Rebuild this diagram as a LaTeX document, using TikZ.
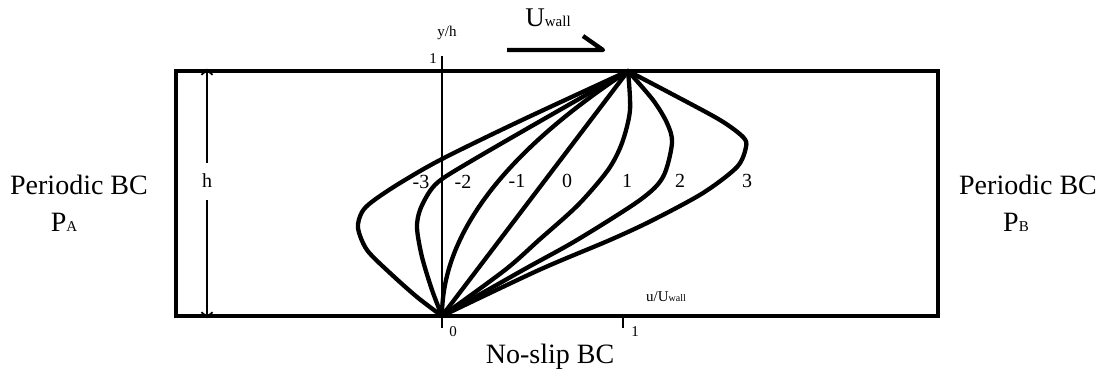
\documentclass[tikz,border=0pt]{standalone}
\usepackage{fontspec}
\setmainfont{Liberation Serif}
\usetikzlibrary{arrows.meta}
\begin{document}
\begin{tikzpicture}[x=1pt,y=-1pt,
  curve/.style={line width=4.3pt, line join=round, line cap=round},
  lab/.style={font=\fontsize{20}{20}\selectfont, inner sep=0pt},
  big/.style={font=\fontsize{28}{28}\selectfont, inner sep=0pt},
  small/.style={font=\fontsize{15}{15}\selectfont, inner sep=0pt},
  harrow/.style={line width=1.8pt, -{Straight Barb[length=5pt,width=11pt]}}]
\useasboundingbox (0,0) rectangle (1101,372);
% channel box
\node[draw, line width=4.8pt, minimum width=762pt, minimum height=245pt, inner sep=0pt] (box) at (557,193.5) {};
% axes
\coordinate (O) at (442,316);
\coordinate (T) at (628,71);
\coordinate (ytop) at (442,56);
\coordinate (ybot) at (442,328);
\coordinate (t1a) at (623,317);
\coordinate (t1b) at (623,328);
\draw[line width=2.6pt] (ytop) -- (ybot);
\draw[line width=2.6pt] (t1a) -- (t1b);
\node[small] (yh) at (447,33) {y/h};
\node[small] (one) at (433,59) {1};
\node[small] (zero) at (453,332) {0};
\node[small] (oneb) at (635,332) {1};
\node[small, anchor=west] (uu) at (646,297) {u/U{\fontsize{10}{10}\selectfont wall}};
% h arrow
\node[lab] (h) at (207,181) {h};
\draw[harrow] ([yshift=18pt]h.center) -- (h |- box.north);
\draw[harrow] ([yshift=-19pt]h.center) -- (h |- box.south);
% wall velocity
\node[inner sep=0pt, font=\fontsize{27}{27}\selectfont] (uw) at (548,18) {U{\fontsize{15}{15}\selectfont wall}};
\coordinate (wa) at (507,50);
\coordinate (wb) at (603,50);
\coordinate (wc) at (583,36);
\draw[line width=4.3pt, line join=round] (wa) -- (wb) -- (wc);
% side labels
\node[big] (pbcl) at (79,185) {Periodic BC};
\node[big] (pa) at (64,222) {P{\fontsize{15}{15}\selectfont A}};
\node[big] (pbcr) at (1028,185) {Periodic BC};
\node[big] (pb) at (1016,222) {P{\fontsize{15}{15}\selectfont B}};
\node[big] (ns) at (550,357) {No-slip BC};
% velocity profiles
\draw[curve] plot[smooth] coordinates {(O) (417,297) (390,273) (367,250) (358,228) (362,212) (373,201) (400,183) (442,159) (520,121) (T)};
\draw[curve] plot[smooth] coordinates {(O) (432,290) (422,257) (417,228) (420,210) (430,191) (442,179) (473,160) (530,127) (T)};
\draw[curve] plot[domain=0:1, samples=40, smooth] ({442+186*\x*\x}, {316-245*\x}) -- (T);
\draw[curve] (O) -- (T);
\draw[curve] plot[smooth] coordinates {(O) (505,270) (539,240) (578,205) (608,170) (622,143) (630,110) (T)};
\draw[curve] plot[smooth] coordinates {(O) (523,270) (577,240) (640,200) (663,177) (672,143) (667,123) (653,100) (T)};
\draw[curve] plot[smooth] coordinates {(O) (539,270) (610,240) (653,220) (703,193) (737,167) (746,147) (743,137) (720,120) (670,93) (T)};
% profile labels
\node[lab] (lm3) at (421,182) {-3};
\node[lab] (lm2) at (463,182) {-2};
\node[lab] (lm1) at (517,181) {-1};
\node[lab] (l0) at (567,181) {0};
\node[lab] (l1) at (627,181) {1};
\node[lab] (l2) at (680,181) {2};
\node[lab] (l3) at (747,181) {3};
\end{tikzpicture}
\end{document}
